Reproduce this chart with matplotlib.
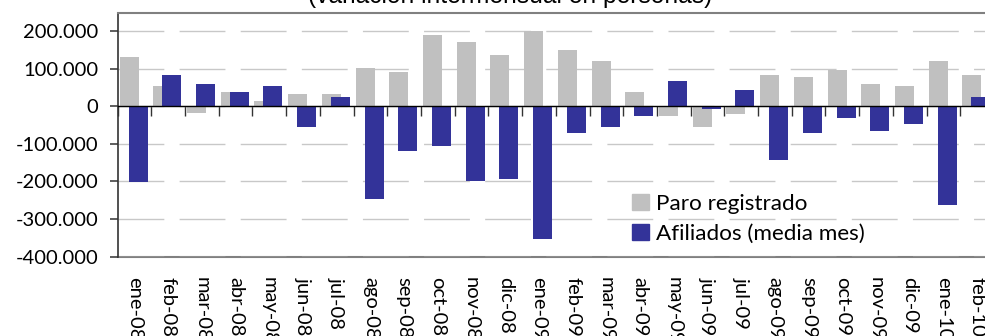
import matplotlib
matplotlib.use("Agg")
import matplotlib.pyplot as plt
import numpy as np
from matplotlib.patches import Patch

# Monthly change (persons)
months = ["ene-08", "feb-08", "mar-08", "abr-08", "may-08", "jun-08", "jul-08",
          "ago-08", "sep-08", "oct-08", "nov-08", "dic-08", "ene-09", "feb-09",
          "mar-09", "abr-09", "may-09", "jun-09", "jul-09", "ago-09", "sep-09",
          "oct-09", "nov-09", "dic-09", "ene-10", "feb-10"]
paro = [132000, 54000, -17000, 38000, 14000, 33000, 33000, 102000, 91000,
        190000, 172000, 137000, 201000, 150000, 121000, 38000, -25000, -55000,
        -20000, 83000, 78000, 97000, 59000, 54000, 121000, 83000]
afiliados = [-202000, 83000, 59000, 38000, 54000, -56000, 25000, -248000,
             -120000, -106000, -199000, -194000, -354000, -71000, -55000,
             -25000, 67000, -6000, 43000, -144000, -71000, -31000, -66000,
             -47000, -263000, 25000]
yticks = [-400000, -300000, -200000, -100000, 0, 100000, 200000]
legend_labels = ["Paro registrado", "Afiliados (media mes)"]

GRAY = "#C0C0C0"
BLUE = "#333399"
plt.rcParams["lines.scale_dashes"] = False

fig = plt.figure(figsize=(9.85, 3.36), dpi=100)
ax = fig.add_axes([117.6 / 985, (336 - 256.5) / 336, 876.4 / 985, 243.8 / 336])

x = np.arange(len(months))
w = 0.564
ax.bar(x - 0.157, paro, width=w, color=GRAY, zorder=2)
ax.bar(x + 0.110, afiliados, width=w, color=BLUE, zorder=3)

ax.set_xlim(-0.5, len(months) - 0.5)
ax.set_ylim(-400000, 250000)

# y axis
ax.set_yticks(yticks)
ax.set_yticklabels([f"{v:,.0f}".replace(",", ".") for v in yticks],
                   family="Lato", fontsize=14.5)
ax.tick_params(axis="y", direction="out", length=6, width=1.1, color="#333333", pad=8)
ax.yaxis.grid(True, color="#c8c8c8", linewidth=1.0, linestyle=(0, (33, 11)), zorder=0)
ax.set_axisbelow(True)

# category axis crossing at zero, ticks between categories
ax.spines["bottom"].set_position(("data", 0))
ax.spines["bottom"].set_color("black")
ax.spines["bottom"].set_linewidth(1.0)
ax.spines["bottom"].set_zorder(5)
ax.set_xticks(np.arange(len(months) + 1) - 0.5)
ax.set_xticklabels([])
ax.tick_params(axis="x", direction="out", length=7, width=1.0, color="#333333")

ax.spines["left"].set_color("#333333")
ax.spines["left"].set_linewidth(1.2)
ax.spines["top"].set_color("#808080")
ax.spines["top"].set_linewidth(1.5)
ax.spines["right"].set_color("#808080")

# month labels at the bottom of the plot area
sec = ax.secondary_xaxis("bottom")
sec.set_xticks(x)
sec.set_xticklabels(months, rotation=270, family="Lato", fontsize=14.5)
sec.tick_params(length=0, pad=15)
sec.spines["bottom"].set_color("#808080")
sec.spines["bottom"].set_linewidth(1.5)

handles = [Patch(color=GRAY), Patch(color=BLUE)]
ax.legend(handles, legend_labels, loc="upper left",
          bbox_to_anchor=(632 / 985, 1 - 194 / 336), bbox_transform=fig.transFigure,
          frameon=False, prop={"family": "Lato", "size": 16.2},
          handlelength=0.75, handleheight=0.75, handletextpad=0.32,
          labelspacing=0.42, borderpad=0, borderaxespad=0)

fig.text(510 / 985, 1 - 3 / 336, "(variación intermensual en personas)",
         ha="center", va="baseline", fontsize=17.7, family="Liberation Sans")

fig.savefig("out.png", dpi=100)
